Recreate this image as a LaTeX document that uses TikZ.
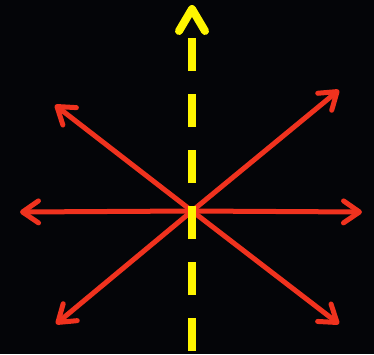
\documentclass[tikz,border=0pt]{standalone}
\usetikzlibrary{arrows.meta}
\definecolor{bgblack}{RGB}{4,5,8}
\definecolor{rayred}{RGB}{240,50,30}
\definecolor{axyellow}{RGB}{255,245,0}

\begin{document}
\begin{tikzpicture}[x=1pt, y=-1pt,
  ray/.style={rayred, line width=5pt, line cap=round,
              -{Straight Barb[length=16pt, width=22pt, round]}},
  axis/.style={axyellow, line width=8pt, dash pattern=on 33pt off 23pt},
  chev/.style={axyellow, line width=8pt, line cap=round, line join=round}
]
\fill[bgblack] (0,0) rectangle (374,354);
\useasboundingbox (0,0) rectangle (374,354);
% centre and ray ends
\coordinate (c)  at (192,211);
\coordinate (w)  at (20,212);
\coordinate (e)  at (362,212);
\coordinate (nw) at (55,105);
\coordinate (ne) at (339,90);
\coordinate (sw) at (56,324);
\coordinate (se) at (339,324);
\draw[ray] (c) -- (w);
\draw[ray] (c) -- (e);
\draw[ray] (c) -- (nw);
\draw[ray] (c) -- (ne);
\draw[ray] (c) -- (sw);
\draw[ray] (c) -- (se);
% vertical axis
\coordinate (bot) at (192,351);
\coordinate (top) at (192,38);
\coordinate (tip) at (192,9);
\coordinate (hl)  at (179,31);
\coordinate (hr)  at (205,31);
\draw[axis] (bot) -- (top);
\draw[chev] (hl) -- (tip) -- (hr);
\end{tikzpicture}
\end{document}
